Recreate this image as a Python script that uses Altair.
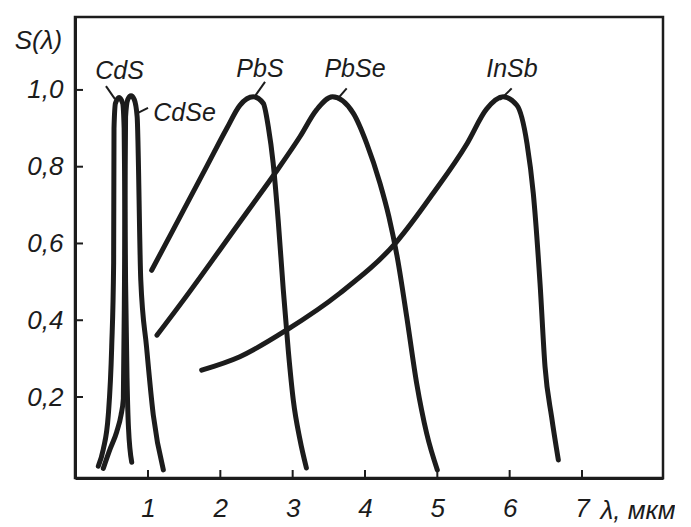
import altair as alt
import pandas as pd

# ---- data ----
cds_x = [0.313, 0.382, 0.451, 0.498, 0.525, 0.530, 0.550, 0.600, 0.650, 0.670, 0.690, 0.710, 0.730, 0.775]
cds_y = [0.02, 0.064, 0.153, 0.33, 0.55, 0.90, 0.965, 0.98, 0.965, 0.90, 0.50, 0.25, 0.12, 0.03]

cdse_x = [0.382, 0.475, 0.567, 0.627, 0.659, 0.675, 0.690, 0.720, 0.765, 0.810, 0.850, 0.900, 0.980, 1.073, 1.212]
cdse_y = [0.014, 0.064, 0.109, 0.153, 0.195, 0.50, 0.93, 0.975, 0.985, 0.975, 0.93, 0.505, 0.33, 0.153, 0.01]

pbs_x = [1.05, 1.34, 1.81, 2.09, 2.27, 2.456, 2.594, 2.663, 2.73, 2.80, 2.87, 2.94, 3.01, 3.10, 3.19]
pbs_y = [0.53, 0.633, 0.80, 0.90, 0.96, 0.982, 0.965, 0.904, 0.81, 0.66, 0.48, 0.32, 0.19, 0.09, 0.015]

pbse_x = [1.124, 1.50, 2.00, 2.40, 2.756, 3.10, 3.33, 3.55, 3.839, 4.023, 4.207, 4.33, 4.45, 4.577, 4.715, 4.853, 5.00]
pbse_y = [0.361, 0.455, 0.585, 0.69, 0.783, 0.878, 0.948, 0.982, 0.939, 0.861, 0.757, 0.67, 0.56, 0.409, 0.235, 0.105, 0.01]

insb_x = [1.742, 2.27, 2.92, 3.65, 4.44, 4.94, 5.41, 5.68, 5.91, 6.10, 6.24, 6.327, 6.42, 6.489, 6.58, 6.673]
insb_y = [0.270, 0.305, 0.375, 0.47, 0.605, 0.73, 0.86, 0.95, 0.982, 0.96, 0.86, 0.73, 0.496, 0.279, 0.148, 0.036]

label_names = ["CdS", "CdSe", "PbS", "PbSe", "InSb"]
label_x = [0.606, 1.505, 2.548, 3.862, 6.032]
label_y = [1.049, 0.941, 1.054, 1.054, 1.054]

leader_x1 = [0.419, 0.862, 2.618, 3.747, 6.028]
leader_y1 = [1.010, 0.940, 1.021, 1.004, 1.004]
leader_x2 = [0.544, 1.000, 2.479, 3.609, 5.866]
leader_y2 = [0.976, 0.953, 0.984, 0.974, 0.974]

x_ticks = [1, 2, 3, 4, 5, 6, 7]
y_ticks = [0.2, 0.4, 0.6, 0.8, 1.0]

# ---- tables ----
rows = []
for name, xs, ys in [("CdS", cds_x, cds_y), ("CdSe", cdse_x, cdse_y),
                     ("PbS", pbs_x, pbs_y), ("PbSe", pbse_x, pbse_y),
                     ("InSb", insb_x, insb_y)]:
    for i, (a, b) in enumerate(zip(xs, ys)):
        rows.append({"series": name, "lam": a, "s": b, "i": i})
curves = pd.DataFrame(rows)
labels = pd.DataFrame({"name": label_names, "x": label_x, "y": label_y})
leaders = pd.DataFrame({"x1": leader_x1, "y1": leader_y1, "x2": leader_x2, "y2": leader_y2})
xt = pd.DataFrame({"v": x_ticks})
yt = pd.DataFrame({"v": y_ticks})

W, H = 588, 461
INK = "#1c1c1c"
FONT = "Liberation Sans"

xscale = alt.Scale(domain=[-0.0093, 8.12], nice=False, zero=False)
yscale = alt.Scale(domain=[-0.011, 1.19], nice=False, zero=False)

xaxis = alt.Axis(values=x_ticks, format="d", ticks=False, grid=False,
                 domainColor=INK, domainWidth=3,
                 labelFont=FONT, labelFontSize=26, labelFontStyle="italic",
                 labelColor=INK, labelPadding=17,
                 title="λ, мкм", titleFont=FONT, titleFontSize=26,
                 titleFontStyle="italic", titleFontWeight="normal", titleColor=INK,
                 titleX=525, titleY=40, titleAlign="left", titleBaseline="alphabetic")
yaxis = alt.Axis(values=y_ticks, ticks=False, grid=False,
                 labelExpr="replace(format(datum.value, '.1f'), '.', ',')",
                 domainColor=INK, domainWidth=3,
                 labelFont=FONT, labelFontSize=26, labelFontStyle="italic",
                 labelColor=INK, labelPadding=12,
                 title="S(λ)", titleFont=FONT, titleFontSize=26,
                 titleFontStyle="italic", titleFontWeight="normal", titleColor=INK,
                 titleAngle=0, titleX=-37, titleY=23, titleAlign="center",
                 titleBaseline="middle")

lines = alt.Chart(curves).mark_line(
    color=INK, strokeWidth=5, strokeCap="round", strokeJoin="round",
    interpolate="monotone"
).encode(
    x=alt.X("lam:Q", scale=xscale, axis=xaxis),
    y=alt.Y("s:Q", scale=yscale, axis=yaxis),
    detail="series:N",
    order="i:Q",
)

xtick_marks = alt.Chart(xt).mark_rule(color=INK, strokeWidth=2).encode(
    x=alt.X("v:Q", scale=xscale), y=alt.value(H), y2=alt.value(H - 8)
)
ytick_marks = alt.Chart(yt).mark_rule(color=INK, strokeWidth=2).encode(
    y=alt.Y("v:Q", scale=yscale), x=alt.value(0), x2=alt.value(8)
)

leader_marks = alt.Chart(leaders).mark_rule(color=INK, strokeWidth=2).encode(
    x=alt.X("x1:Q", scale=xscale), y=alt.Y("y1:Q", scale=yscale),
    x2="x2:Q", y2="y2:Q"
)

text_marks = alt.Chart(labels).mark_text(
    font=FONT, fontSize=25, fontStyle="italic", color=INK,
    align="center", baseline="middle"
).encode(
    x=alt.X("x:Q", scale=xscale), y=alt.Y("y:Q", scale=yscale), text="name:N"
)

chart = alt.layer(lines, xtick_marks, ytick_marks, leader_marks, text_marks).properties(
    width=W, height=H,
    padding={"left": 67, "top": 9, "right": 12, "bottom": 48},
    autosize=alt.AutoSizeParams(type="none"),
    background="white",
).configure_view(
    stroke=INK, strokeWidth=2.5
)

chart.save("out.html", embed_options={"renderer": "svg", "actions": False})
